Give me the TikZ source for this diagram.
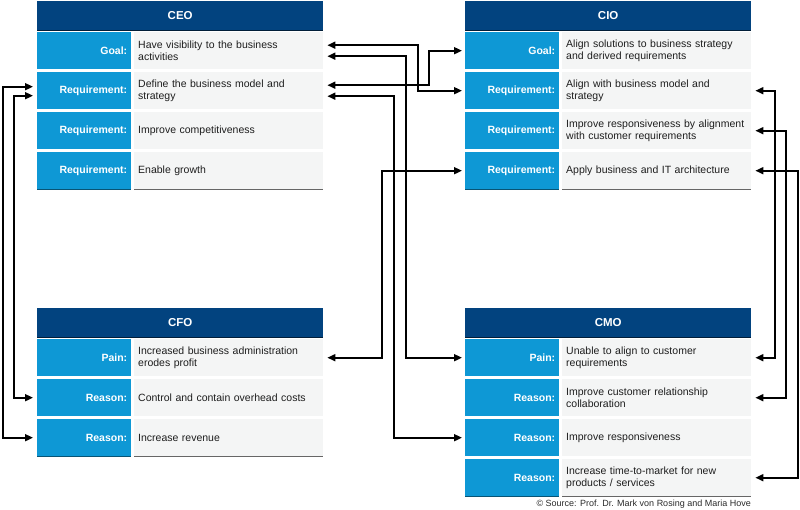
\documentclass[tikz,border=0pt]{standalone}
\usepackage{fontspec}
\setmainfont{Liberation Sans}
\usetikzlibrary{arrows.meta}
\definecolor{hdr}{HTML}{02437F}
\definecolor{lbl}{HTML}{0E98D5}
\definecolor{txtbg}{HTML}{F4F5F5}
\definecolor{ink}{HTML}{1E1E1E}
\definecolor{srcink}{HTML}{2A2A2A}
\begin{document}
\begin{tikzpicture}[x=1pt,y=-1pt,
  hdrbox/.style={fill=hdr, text=white, font=\bfseries\fontsize{11.5}{13}\selectfont,
    minimum width=286pt, minimum height=29pt, inner sep=0pt, anchor=north west},
  lblbox/.style={fill=lbl, text=white, font=\bfseries\fontsize{10.5}{12}\selectfont,
    minimum height=37pt, inner xsep=4pt, inner ysep=0pt, text width=86pt, align=right, anchor=north west},
  txtbox/.style={fill=txtbg, text=ink, font=\fontsize{10.5}{12}\selectfont,
    minimum height=37pt, inner xsep=4pt, inner ysep=0pt, text width=181pt, align=left, anchor=north west},
  hdrline/.style={draw=hdr!45!black, line width=0.8pt},
  botline/.style={draw=black!60, line width=1pt},
  botlbl/.style={draw=lbl!55!black, line width=1pt},
  conn/.style={draw=black, line width=1.7pt, {Triangle[length=8pt,width=7pt]}-{Triangle[length=8pt,width=7pt]}},
  srctext/.style={text=srcink, font=\fontsize{9}{10}\selectfont, anchor=east, inner sep=0pt}
]
\useasboundingbox (0,0) rectangle (800,510);

% ---------- CEO ----------
\node[hdrbox] (ceoH) at (37,1) {CEO};
\node[lblbox] (ceoL1) at (37,32) {Goal:};
\node[txtbox] (ceoT1) at (134,32) {Have visibility to the business\\activities};
\node[lblbox] (ceoL2) at (37,72) {Requirement:};
\node[txtbox] (ceoT2) at (134,72) {Define the business model and\\strategy};
\node[lblbox] (ceoL3) at (37,112) {Requirement:};
\node[txtbox] (ceoT3) at (134,112) {Improve competitiveness};
\node[lblbox] (ceoL4) at (37,152) {Requirement:};
\node[txtbox] (ceoT4) at (134,152) {Enable growth};
\draw[hdrline] (ceoH.south west) -- (ceoH.south east);
\draw[botlbl] (ceoL4.south west) -- (ceoL4.south east);
\draw[botline] (ceoT4.south west) -- (ceoT4.south east);

% ---------- CIO ----------
\node[hdrbox] (cioH) at (465,1) {CIO};
\node[lblbox] (cioL1) at (465,32) {Goal:};
\node[txtbox] (cioT1) at (562,32) {Align solutions to business strategy\\and derived requirements};
\node[lblbox] (cioL2) at (465,72) {Requirement:};
\node[txtbox] (cioT2) at (562,72) {Align with business model and\\strategy};
\node[lblbox] (cioL3) at (465,112) {Requirement:};
\node[txtbox] (cioT3) at (562,112) {Improve responsiveness by alignment\\with customer requirements};
\node[lblbox] (cioL4) at (465,152) {Requirement:};
\node[txtbox] (cioT4) at (562,152) {Apply business and IT architecture};
\draw[hdrline] (cioH.south west) -- (cioH.south east);
\draw[botlbl] (cioL4.south west) -- (cioL4.south east);
\draw[botline] (cioT4.south west) -- (cioT4.south east);

% ---------- CFO ----------
\node[hdrbox] (cfoH) at (37,308) {CFO};
\node[lblbox] (cfoL1) at (37,339) {Pain:};
\node[txtbox] (cfoT1) at (134,339) {Increased business administration\\erodes profit};
\node[lblbox] (cfoL2) at (37,379) {Reason:};
\node[txtbox] (cfoT2) at (134,379) {Control and contain overhead costs};
\node[lblbox] (cfoL3) at (37,419) {Reason:};
\node[txtbox] (cfoT3) at (134,419) {Increase revenue};
\draw[hdrline] (cfoH.south west) -- (cfoH.south east);
\draw[botlbl] (cfoL3.south west) -- (cfoL3.south east);
\draw[botline] (cfoT3.south west) -- (cfoT3.south east);

% ---------- CMO ----------
\node[hdrbox] (cmoH) at (465,308) {CMO};
\node[lblbox] (cmoL1) at (465,339) {Pain:};
\node[txtbox] (cmoT1) at (562,339) {Unable to align to customer\\requirements};
\node[lblbox] (cmoL2) at (465,379) {Reason:};
\node[txtbox] (cmoT2) at (562,379) {Improve customer relationship\\collaboration};
\node[lblbox] (cmoL3) at (465,419) {Reason:};
\node[txtbox] (cmoT3) at (562,419) {Improve responsiveness};
\node[lblbox] (cmoL4) at (465,459) {Reason:};
\node[txtbox] (cmoT4) at (562,459) {Increase time-to-market for new\\products / services};
\draw[hdrline] (cmoH.south west) -- (cmoH.south east);
\draw[botlbl] (cmoL4.south west) -- (cmoL4.south east);
\draw[botline] (cmoT4.south west) -- (cmoT4.south east);

\node[srctext] (src) at (751,504) {\textcopyright{} Source: Prof. Dr. Mark von Rosing and Maria Hove};

% ---------- rails ----------
\coordinate (rA) at (3,0);
\coordinate (rB) at (14,0);
\coordinate (rC) at (382,0);
\coordinate (rD) at (394,0);
\coordinate (rE) at (406,0);
\coordinate (rF) at (418,0);
\coordinate (rG) at (429,0);
\coordinate (rH) at (775,0);
\coordinate (rI) at (786,0);
\coordinate (rJ) at (798,0);

% ---------- connectors ----------
% CEO goal <-> CIO requirement 1
\draw[conn] ([xshift=4pt,yshift=5.5pt]ceoT1.east) -| (rF |- cioL2.west) -- ([xshift=-3pt]cioL2.west);
% CEO goal <-> CMO pain
\draw[conn] ([xshift=4pt,yshift=-5.5pt]ceoT1.east) -| (rE |- cmoL1.west) -- ([xshift=-3pt]cmoL1.west);
% CEO requirement 1 <-> CIO goal
\draw[conn] ([xshift=4pt,yshift=5.5pt]ceoT2.east) -| (rG |- cioL1.west) -- ([xshift=-3pt]cioL1.west);
% CEO requirement 1 <-> CMO reason 2
\draw[conn] ([xshift=4pt,yshift=-5.5pt]ceoT2.east) -| (rD |- cmoL3.west) -- ([xshift=-3pt]cmoL3.west);
% CFO pain <-> CIO requirement 3
\draw[conn] ([xshift=4pt]cfoT1.east) -| (rC |- cioL4.west) -- ([xshift=-3pt]cioL4.west);
% CEO requirement 1 (left) <-> CFO reasons
\draw[conn] ([xshift=-4pt,yshift=4pt]ceoL2.west) -| (rA |- cfoL3.west) -- ([xshift=-4pt]cfoL3.west);
\draw[conn] ([xshift=-4pt,yshift=-5pt]ceoL2.west) -| (rB |- cfoL2.west) -- ([xshift=-4pt]cfoL2.west);
% CIO right side <-> CMO right side
\draw[conn] ([xshift=4pt]cioT2.east) -| (rH |- cmoT1.east) -- ([xshift=4pt]cmoT1.east);
\draw[conn] ([xshift=4pt]cioT3.east) -| (rI |- cmoT2.east) -- ([xshift=4pt]cmoT2.east);
\draw[conn] ([xshift=4pt]cioT4.east) -| (rJ |- cmoT4.east) -- ([xshift=4pt]cmoT4.east);
\end{tikzpicture}
\end{document}
